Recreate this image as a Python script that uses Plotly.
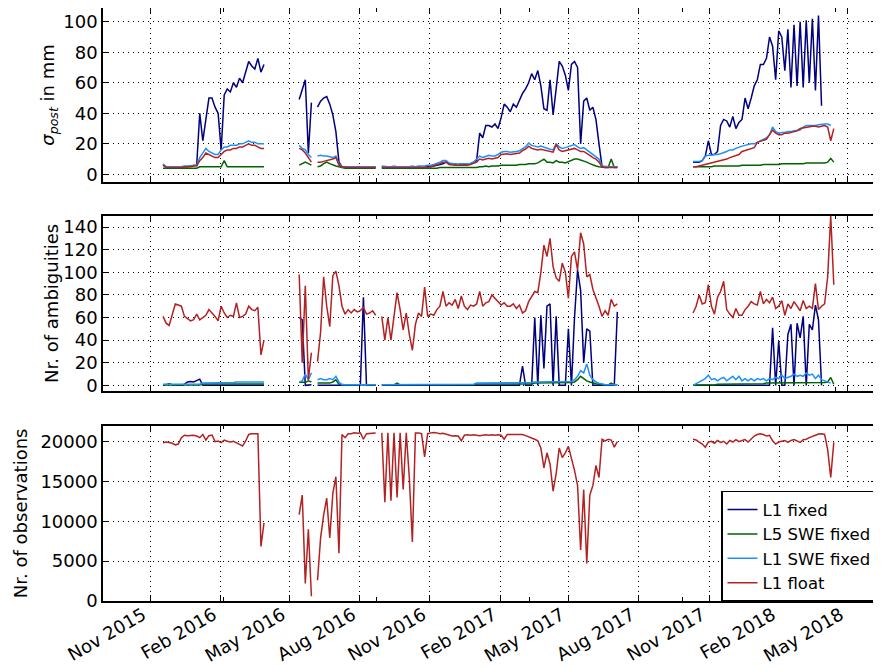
import pandas as pd
import plotly.graph_objects as go
from plotly.subplots import make_subplots

# three observation periods, one value every 4 days
seg_starts = ["2015-11-18", "2016-05-14", "2017-10-11"]
step_days = 4

x_range = ["2015-08-31 12:00", "2018-06-08 12:00"]
minor_ticks = ["2016-02-05", "2016-08-23", "2017-03-11", "2017-09-27", "2018-04-15"]

labels = ["L1 fixed", "L5 SWE fixed", "L1 SWE fixed", "L1 float"]
colors = ["#000080", "#006400", "#1E90FF", "#B22222"]

# ---- sigma_post in mm ----
sig_l1_fixed_a = [6, 5, 5, 5, 5, 5, 5, 5, 5, 5.5, 6, 6, 40, 22, 36, 50, 50,
                  44, 40, 16, 52, 56, 54, 60, 57, 63, 60, 68, 74, 71, 69, 76, 67, 72]
sig_l1_fixed_b = [49, 55, 62, 14, 47, None, 44, 48, 50, 51, 46, 39, 28, 8,
                  5, 5, 4.5, 5, 4.5, 5, 5, 4.5, 5, 4.5, 5, 4.5, None,
                  5, 5, 4.5, 5, 5, 4.5, 5, 5, 5, 4.5, 5, 5, 5, 4.5, 5, 5, 5,
                  5.5, 6, 6, 7, 8, 7, 7, 6.5, 6.5, 7, 6.5, 7, 7, 8, 9,
                  27, 24, 32, 32, 31, 33, 30, 37, 46, 44, 41, 46, 44, 49, 53, 56,
                  60, 66, 62, 68, 58, 43, 42, 62, 39, 56, 74, 71, 65, 55, 72, 74,
                  70, 20, 48, 50, 42, 44, 36, 20, 5, 5, 5, 5, 5, 5]
sig_l1_fixed_c = [8, 8, 8, 9, 12, 22, 13, 13, 15, 32, 36, 35, 31, 38, 30, 34,
                  36, 50, 43, 50, 58, 62, 72, 72, 76, 90, 84, 62, 94, 90, 68, 95,
                  57, 98, 58, 100, 57, 101, 60, 102, 55, 104, 45, None, None, None, None]

sig_l5_swe_a = [4, 4, 4, 4, 4, 4, 4, 4, 4, 4, 4, 4, 5, 5, 5, 5, 5,
                5, 5, 5, 9, 5, 5, 5, 5, 5, 5, 5, 5, 5, 5, 5, 5, 5]
sig_l5_swe_b = [6, 7, 8, 7, 6, None, 5, 5.5, 7, 8, 7, 6, 5.5, 5,
                4.5, 4, 4, 4, 4, 4, 4, 4, 4, 4, 4, 4, None,
                4, 4, 4, 4, 4, 4, 4, 4, 4, 4, 4, 4, 4, 4, 4, 4, 4, 4, 4,
                4.5, 4.5, 4.5, 4.5, 4.5, 4.5, 4.5, 4.5, 4.5, 4.5, 4.5, 4.5, 4.5,
                5, 5, 5.5, 5, 5.5, 5.5, 5.5, 6, 6, 6, 6, 6, 6, 6.5,
                6.5, 6.5, 7, 7, 7, 7.5, 9, 10, 8, 8, 7.5, 9, 8, 8, 7.5, 8.5,
                9, 10, 10, 9.5, 9, 8, 7, 6, 5.5, 5, 4.5, 4.5, 4.5, 10, 4.5, 4.5]
sig_l5_swe_c = [5, 5, 5, 5, 5, 5, 5, 5.5, 5.5, 5.5, 5.5, 5.5, 5.5, 5.5, 5.5, 5.5,
                6, 6, 6, 6, 6, 6, 6, 6.5, 6.5, 6.5, 6.5, 6.5, 6.5,
                7, 7, 7, 7, 7, 7, 7, 7, 7.5, 7.5, 7.5, 7.5, 7.5, 7.5, 7.5, 8, 10.5, 8]

sig_l1_swe_a = [7, 5, 5, 5, 5, 5, 5, 5.5, 5.5, 5.5, 6, 6, 11, 14, 17, 15, 14,
                13, 13, 16, 18, 18, 19, 19, 19, 20, 20, 21, 22, 21, 21, 20, 20, 20]
sig_l1_swe_b = [19, 17, 16, 13, 11, None, 12, 12.5, 12, 12, 11.5, 11, 12, 7,
                5, 5, 5, 5, 5, 5, 5, 5, 5, 5, 5, 5, None,
                5.5, 5, 5, 5, 5.5, 5, 5, 5, 5, 5, 5.5, 5, 5.5, 5.5, 5.5, 6,
                6, 6.5, 7, 8, 9, 9, 7.5, 7, 7, 6.5, 7, 7, 7, 7, 8, 10,
                12, 11, 12, 12.5, 12, 12, 13, 14.5, 15, 15, 14.5, 15, 15, 15.5,
                17, 18, 20.5, 19, 18.5, 18, 18.5, 18, 17, 16.5, 16, 20, 18, 17,
                17.5, 18, 19, 19.5, 18, 17, 17.5, 16, 14.5, 13, 12, 10, 5.5,
                5, 5, 5, 5, 5]
sig_l1_swe_c = [8.5, 8.5, 8.5, 9, 12, 12.5, 12.5, 13, 13, 13.5, 14, 15, 16, 16, 17, 18,
                18.5, 19, 19.5, 20, 20, 21, 22, 23, 24, 26, 31, 28, 27, 27.5, 27.5, 28,
                28, 28.5, 29, 29, 31, 32, 32, 32, 32, 32.5, 33, 33, 33, 32, None]

sig_l1_float_a = [6, 4.5, 4.5, 4.5, 4.5, 4.5, 4.5, 5, 5, 5, 5.5, 5.5, 9, 11, 14, 13, 12,
                  11, 11, 13, 15, 16, 16, 17, 17, 18, 18, 19, 20, 19, 19, 18, 17, 17]
sig_l1_float_b = [17, 16, 14, 11, 8, None, 8, 8, 8.5, 9, 9, 10, 11, 6,
                  5, 4.5, 4.5, 4.5, 4.5, 4.5, 4.5, 4.5, 4.5, 4.5, 4.5, 4.5, None,
                  4.5, 4.5, 4.5, 4.5, 4.5, 4.5, 4.5, 4.5, 4.5, 4.5, 4.5, 4.5, 4.5, 4.5, 4.5, 4.5,
                  5, 5.5, 6, 7, 8, 8, 6.5, 6, 6, 6, 6, 6, 6, 6.5, 7, 8,
                  10, 9.5, 10, 10.5, 10, 10.5, 11, 13, 13.5, 13.5, 13, 13.5, 13.5, 14,
                  15.5, 16.5, 18.5, 17, 16.5, 16, 16.5, 16, 15, 14.5, 14.5, 19.5, 16, 15,
                  15.5, 16, 17, 17, 16, 15, 15, 14, 12.5, 11, 10, 8, 5,
                  4.5, 4.5, 4.5, 4.5, 4.5]
sig_l1_float_c = [5, 5, 5.5, 6, 6.5, 7, 7.5, 8, 8.5, 9, 9.5, 10, 11, 11.5, 12, 13,
                  15, 15.5, 16, 16.5, 17.5, 21, 21.5, 22, 23, 26, 29, 27, 26, 26, 27, 27,
                  27.5, 28, 28.5, 30, 30.5, 31, 31.5, 31.5, 31.5, 31, 31.5, 32, 31, 22, 30]

# ---- number of ambiguities ----
amb_l1_fixed_a = [0, 1, 1.5, 0.5, 0, 0, 0, 1, 3, 3.5, 3, 4, 5.5, 0, 0, 0, 0,
                  0, 0, 0, 0, 0, 0, 0, 0, 0, 0, 0, 0, 0, 0, 0, 0, 0]
amb_l1_fixed_b = [60, 58, 0, 0.5, 0.5, None, 0, 0, 0, 0, 0, 0, 0, 0,
                  0, 0, 0, 0, 0, 0, 0, 78, 0, 0, 0, 0, None,
                  0, 0, 0, 0, 0, 0, 0, 0, 0, 0, 0, 0, 0, 0, 0, 0, 0, 0, 0, 0, 0, 0, 0,
                  0, 0, 0, 0, 0, 0, 0, 0, 0, 0, 0, 0, 0, 0, 0, 0, 0, 0, 0, 0, 0, 0, 0,
                  17, 0, 0, 0, 60, 0, 62, 15, 70, 72, 0, 61, 0, 0, 0, 50,
                  0, 60, 102, 84, 20, 50, 48, 0, 0, 0, 0, 0, 0, 0, 0, 65]
amb_l1_fixed_c = [0, 0, 0, 0, 0, 0, 0, 0, 0, 0, 0, 0, 0, 0, 0, 0, 0, 0, 0, 0, 0, 0, 0, 0, 0, 0,
                  51, 0, 39, 0, 0, 45, 54, 0, 55, 42, 61, 0, 54, 49, 71, 58, 0,
                  None, None, None, None]

amb_l5_swe_a = [0.3, 0.3, 0.3, 0.3, 0.3, 0.3, 0.3, 0.3, 0.3, 0.3, 0.3, 0.3, 0.3,
                1.2, 1.2, 1.5, 1.2, 1.2, 1.2, 1.5, 1.2, 1.2, 1.2, 1.5, 1.2, 1.2, 1.2, 1.2,
                1.5, 1.2, 1.2, 1.2, 1.2, 1.2]
amb_l5_swe_b = [2.5, 3, 2.5, 4, 3, None, 2, 2, 2, 2.5, 2, 3, 5, 1,
                0.5, 0.5, 0.5, 0.5, 0.5, 0.5, 0.5, 0.5, 0.5, 0.5, 0.5, 0.5, None,
                0.5, 0.5, 0.5, 0.5, 0.5, 2, 0.5, 0.5, 0.5, 0.5, 0.5, 0.5, 0.5, 0.5, 0.5, 0.5,
                0.5, 0.5, 0.5, 0.5, 0.5, 0.5, 0.5, 0.5, 0.5, 0.5, 0.5, 0.5, 0.5, 0.5, 0.5,
                1.2, 1.2, 1.2, 1.2, 1.2, 1.2, 1.2, 1.2, 1.2, 1.2, 1.2, 1.2, 1.2, 1.2, 1.2,
                1.2, 1.2, 1.2, 1.2,
                2, 2, 2, 2, 2, 2, 2, 2, 2, 2, 2, 2,
                2.5, 3, 5, 8, 6, 4, 3, 2, 1.5, 1, 0.5, 0.5, 0.5, 2, 0.5, 0.5]
amb_l5_swe_c = [0.3, 0.3, 0.3, 0.3, 0.3, 0.3, 0.3, 0.3, 1, 1, 1, 1, 1,
                1.5, 1.5, 1.5, 1.5, 1.5, 1.5, 1.5, 1.5, 1.5, 1.5, 1.5,
                2, 2, 2, 2, 2, 2, 2, 2, 2, 2, 2, 2, 2, 2, 2, 2, 2,
                2.5, 2.5, 2.5, 3, 7, 1]

amb_l1_swe_a = [1, 1, 1, 1, 1, 1, 1, 1, 1, 1, 1, 1, 1, 2, 2, 2, 2, 2, 2, 2,
                2.5, 2.5, 2.5, 2.5, 3, 3, 3, 3, 2.5, 2.5, 2.5, 2.5, 2.5, 3]
amb_l1_swe_b = [3, 4, 10, 5, 11, None, 5, 6, 5, 5, 6, 5, 8, 3,
                0.5, 0.5, 0.5, 0.5, 0.5, 0.5, 0.5, 0.5, 0.5, 0.5, 0.5, 0.5, None,
                0.5, 0.5, 0.5, 0.5, 0.5, 0.5, 0.5, 0.5, 0.5, 0.5, 0.5, 0.5,
                1, 1, 1, 1, 1, 1, 1, 1, 1, 1, 1, 1, 1, 1, 1, 1, 1, 1, 1,
                2, 2, 2, 2, 2, 2, 2, 2, 2,
                2.5, 2.5, 2.5, 2.5, 2.5, 2.5, 2.5, 2.5, 2.5, 2.5,
                3, 3, 3, 3, 3, 3, 3, 3, 3, 3, 3, 3,
                3.5, 5, 8, 13, 11, 19, 9, 5, 3, 2, 1, 0.5, 0.5, 0.5, 0.5, 0.5]
amb_l1_swe_c = [0, 1.5, 3.5, 5, 6, 9, 5, 6, 4, 6, 7, 4, 6, 8, 5, 8, 4, 6, 4, 6,
                4, 6, 5, 6, 4, 6, 5, 7, 6, 9, 6, 7, 8, 10, 8, 9, 8, 11, 9, 10,
                6, 9, 5, 4, 3, 2, None]

amb_l1_float_a = [61, 55, 53, 62, 72, 71, 70, 61, 59, 57, 58, 63, 58, 60, 62, 67, 64,
                  61, 57, 70, 64, 60, 62, 61, 73, 60, 61, 63, 70, 67, 66, 69, 27, 40]
amb_l1_float_b = [98, 20, 88, 5, 29, None, 21, 47, 96, 70, 52, 97, 101, 88,
                  70, 63, 67, 64, 67, 65, 66, 69, 63, 64, 66, 62, None,
                  61, 40, 60, 40, 61, 82, 67, 49, 64, 45, 31, 54, 64, 61, 87, 61,
                  63, 62, 67, 70, 83, 70, 73, 71, 76, 68, 79, 70, 67, 71, 70, 72,
                  83, 70, 73, 74, 80, 77, 74, 71, 73, 70, 70, 72, 68, 71, 64, 66,
                  74, 79, 83, 82, 100, 124, 114, 130, 105, 95, 92, 108, 100, 77, 114, 118,
                  102, 135, 125, 96, 98, 85, 78, 70, 61, 66, 62, 76, 70, 72]
amb_l1_float_c = [64, 70, 80, 72, 73, 89, 70, 63, 78, 83, 92, 67, 63, 60, 68, 62,
                  62, 67, 70, 74, 72, 71, 83, 72, 76, 73, 78, 68, 70, 75, 62, 72,
                  68, 74, 70, 66, 75, 68, 70, 68, 90, 67, 70, 72, 96, 150, 89]

# ---- number of observations (same for all solutions) ----
obs_a = [19870, 19950, 19900, 19800, 19600, 19700, 20500, 20800, 20750, 20800, 20800,
         20700, 20500, 20900, 20200, 20750, 20830, 20000, 20080, 19870, 20200, 20050,
         19950, 20050, 19900, 19650, 19450, 20080, 20900, 21000, 21000, 21000, 6850, 9800]
obs_b = [10850, 13300, 2200, 9000, 600, None, 2600, 7900, 10800, 12900, 7900, 13500, 15600, 6000,
         20900, 20500, 21000, 21000, 21100, 21050, 21100, 20300, 21000, 21050, 21100, 21100, None,
         21100, 12400, 21100, 12600, 21100, 13000, 21100, 14000, 21100, 15500, 7400, 21100,
         21100, 21000, 18100, 21000,
         21100, 21150, 21100, 21000, 21050, 20900, 20800,
         20700, 20750, 20700, 20100, 20800, 20850, 20800, 20850, 20800, 20750,
         20800, 20850, 20800, 20850, 20800, 20850, 20800, 20300, 20900, 20900,
         20950, 20900, 20950, 20900, 20750, 20600, 20500, 20300, 20100, 19200,
         16700, 18600, 17200, 13800, 16000, 19200, 18000, 18600, 19400, 18000,
         16400, 14500, 6400, 14000, 4700, 13300, 14500, 17000, 15500, 20300,
         20100, 20300, 20200, 19300, 20000]
obs_c = [20300, 20200, 19950, 19700, 19300, 19950, 20050, 19800, 20150, 19900, 20050, 19700,
         20150, 19950, 20250, 20000, 20150, 20250, 19950, 20300, 20700, 20900, 21000, 20900,
         20700, 20800, 20100, 19700, 19950, 20050, 20150, 19900, 20150, 20250, 20100, 19900,
         20250, 20300, 20500, 20700, 20800, 20950, 21000, 20900, 19000, 15500, 19900]

sigma = [(sig_l1_fixed_a, sig_l1_fixed_b, sig_l1_fixed_c),
         (sig_l5_swe_a, sig_l5_swe_b, sig_l5_swe_c),
         (sig_l1_swe_a, sig_l1_swe_b, sig_l1_swe_c),
         (sig_l1_float_a, sig_l1_float_b, sig_l1_float_c)]
ambig = [(amb_l1_fixed_a, amb_l1_fixed_b, amb_l1_fixed_c),
         (amb_l5_swe_a, amb_l5_swe_b, amb_l5_swe_c),
         (amb_l1_swe_a, amb_l1_swe_b, amb_l1_swe_c),
         (amb_l1_float_a, amb_l1_float_b, amb_l1_float_c)]


def stitch(parts):
    # join the periods, with a None between them so the line breaks
    xs, ys = [], []
    for start, vals in zip(seg_starts, parts):
        days = pd.date_range(start, periods=len(vals), freq=f"{step_days}D")
        xs += list(days) + [days[-1] + pd.Timedelta(days=1)]
        ys += list(vals) + [None]
    return xs, ys


fig = make_subplots(rows=3, cols=1, shared_xaxes=True)

for row, panel in ((1, sigma), (2, ambig)):
    for i, parts in enumerate(panel):
        xs, ys = stitch(parts)
        fig.add_trace(
            go.Scatter(x=xs, y=ys, mode="lines", name=labels[i],
                       line=dict(color=colors[i], width=1.5),
                       showlegend=(row == 1)),
            row=row, col=1,
        )

xs, ys = stitch((obs_a, obs_b, obs_c))
fig.add_trace(
    go.Scatter(x=xs, y=ys, mode="lines", name=labels[3],
               line=dict(color=colors[3], width=1.5), showlegend=False),
    row=3, col=1,
)

axis_style = dict(
    showline=True, linecolor="black", linewidth=1.5, mirror="ticks",
    ticks="inside", ticklen=6, tickwidth=1, tickcolor="black",
    showgrid=True, gridcolor="black", griddash="1px,4px", gridwidth=1,
    zeroline=False, tickfont=dict(size=18, color="black"),
)

for r in (1, 2, 3):
    fig.update_xaxes(
        axis_style, row=r, col=1, type="date", range=x_range, automargin=False,
        tick0="2015-11-01", dtick="M3", tickformat="%b %Y",
        tickangle=-30, showticklabels=(r == 3),
        ticklabelshift=-7, ticklabelstandoff=-5,
        minor=dict(tickmode="array", tickvals=minor_ticks, ticks="inside",
                   ticklen=4, tickcolor="black", showgrid=False),
    )

fig.update_yaxes(axis_style, row=1, col=1, range=[-5, 109], dtick=20, automargin=True,
                 title=dict(text="<i>σ</i><sub><i>post</i></sub> in mm",
                            font=dict(size=18), standoff=4))
fig.update_yaxes(axis_style, row=2, col=1, range=[-5, 150], dtick=20, automargin=True,
                 title=dict(text="Nr. of ambiguities", font=dict(size=18), standoff=0))
fig.update_yaxes(axis_style, row=3, col=1, range=[0, 22000], dtick=5000, tickformat="d",
                 automargin=True,
                 title=dict(text="Nr. of observations", font=dict(size=18), standoff=8))

# the page adds an 8 px body margin, so the margins here are offset by it
fig.update_layout(
    width=881, height=667,
    margin=dict(l=95, r=12, t=0, b=74),
    paper_bgcolor="white", plot_bgcolor="white",
    font=dict(family="DejaVu Sans", size=18, color="black"),
    yaxis=dict(domain=[0.7066, 1.0]),
    yaxis2=dict(domain=[0.3541, 0.6497]),
    yaxis3=dict(domain=[0.0, 0.2956]),
    legend=dict(x=1.0, xanchor="right", y=0.1860, yanchor="top",
                bgcolor="white", bordercolor="black", borderwidth=1.5,
                font=dict(size=16.5), itemwidth=30, tracegroupgap=0),
)

fig.write_html("out.html")
